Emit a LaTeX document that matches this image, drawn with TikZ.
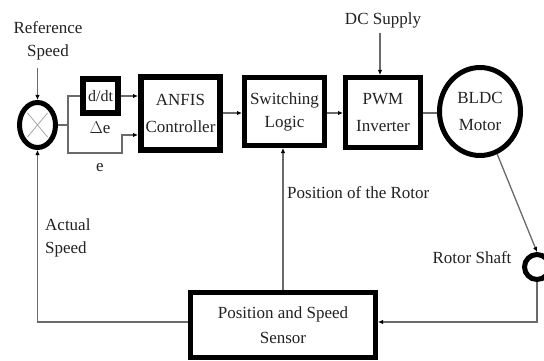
\documentclass[tikz,border=0pt]{standalone}
\usepackage{fontspec}
\setmainfont{Liberation Serif}
\usetikzlibrary{arrows.meta,shapes.geometric}
\definecolor{wire}{HTML}{6A6A6A}
\definecolor{ink}{HTML}{222222}
\begin{document}
\begin{tikzpicture}[x=1pt,y=-1pt,
  every node/.style={text=ink,font=\fontsize{17}{23}\selectfont},
  blockbox/.style={draw=black,rectangle,inner sep=0pt,align=center},
  wirestyle/.style={draw=wire,line width=1.3pt},
  arr/.style={wirestyle,-{Latex[length=5pt,width=4.5pt,color=black]}},
  lbl/.style={inner sep=0pt,align=center}]
\useasboundingbox (0,0) rectangle (544,361);
\fill[white] (0,0) rectangle (544,361);
% blocks
\node[draw=black,ellipse,line width=5pt,minimum width=36pt,minimum height=45pt,inner sep=0pt] (sum) at (37.5,125) {};
\draw[gray!70,line width=0.8pt] (sum.center) ++(-10,-12) -- ++(20,24) (sum.center) ++(10,-12) -- ++(-20,24);
\node[blockbox,line width=6pt,minimum width=35pt,minimum height=34pt,font=\fontsize{16}{20}\selectfont] (ddt) at (100.5,96) {d/dt};
\node[blockbox,line width=6pt,minimum width=79pt,minimum height=73pt,font=\fontsize{17}{27}\selectfont] (anfis) at (180.5,113.5) {ANFIS\\Controller};
\node[blockbox,line width=5pt,minimum width=80pt,minimum height=68pt] (sw) at (284.5,111.5) {Switching\\Logic};
\node[blockbox,line width=5pt,minimum width=75pt,minimum height=70pt,font=\fontsize{17}{27}\selectfont] (pwm) at (383,112.5) {PWM\\Inverter};
\node[draw=black,ellipse,line width=5pt,minimum width=81pt,minimum height=88pt,inner sep=0pt,align=center,font=\fontsize{17}{27}\selectfont] (motor) at (480,111.5) {BLDC\\Motor};
\node[draw=black,circle,line width=5pt,minimum size=25pt,inner sep=0pt] (shaft) at (537,267) {};
\node[blockbox,line width=5pt,minimum width=185pt,minimum height=65pt,font=\fontsize{17}{25}\selectfont] (sensor) at (283,325) {Position and Speed\\Sensor};
% labels
\node[lbl] (refl) at (48,41) {Reference\\Speed};
\node[lbl] (del) at (100,128) {$\Delta$e};
\node[lbl] (el) at (100,168) {e};
\node[lbl] (dcl) at (383,20) {DC Supply};
\node[lbl,anchor=west] (posl) at (287,193) {Position of the Rotor};
\node[lbl,anchor=west,align=left] (actl) at (45,238) {Actual\\Speed};
\node[lbl] (shl) at (472,258) {Rotor Shaft};
% connectors
\coordinate (refin) at (37.5,68);
\draw[arr] (refin) -- (sum.north);
\coordinate (split) at (68,125);
\draw[wirestyle] (sum.east) -- (split) |- (ddt.west);
\coordinate (lowc) at (122,153);
\draw[arr] (split) |- (lowc) |- (anfis.west |- 0,135);
\draw[arr] (ddt.east) -- (anfis.west |- ddt.east);
\draw[arr] (anfis.east |- 0,113) -- (sw.west |- 0,113);
\draw[arr] (sw.east |- 0,113) -- (pwm.west |- 0,113);
\draw[wirestyle] (pwm.east |- 0,113) -- (motor.west |- 0,113);
\coordinate (dcin) at (380,33);
\draw[arr] (dcin) -- (dcin |- pwm.north);
\draw[arr] (motor.-68) -- (shaft.north);
\coordinate (shc) at (537,322);
\draw[arr] (shaft.south) -- (shc) -- ([yshift=3pt]sensor.east);
\draw[arr] (sensor.north) -- (sensor.north |- sw.south);
\coordinate (fbc) at (37.5,322);
\draw[arr] ([yshift=3pt]sensor.west) -- (fbc) -- (sum.south);
\end{tikzpicture}
\end{document}
